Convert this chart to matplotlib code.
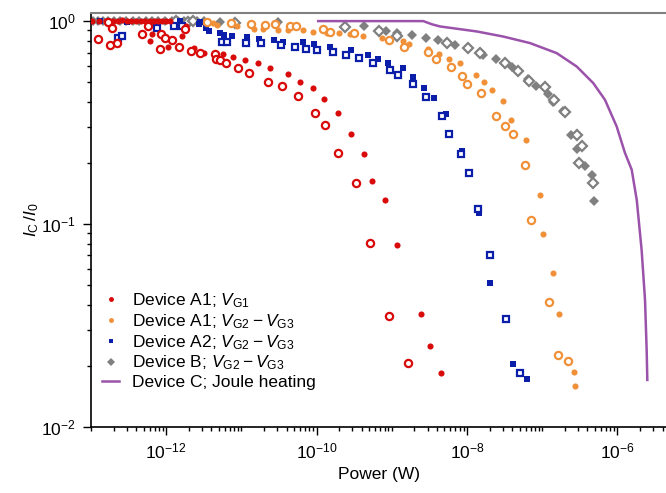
import numpy as np
import matplotlib
matplotlib.use("Agg")
import matplotlib.pyplot as plt
from matplotlib.ticker import FixedLocator, LogLocator, NullFormatter

plt.rcParams['font.family'] = ['Liberation Sans', 'DejaVu Sans']
plt.rcParams['mathtext.fontset'] = 'custom'
plt.rcParams['mathtext.rm'] = 'Liberation Sans'
plt.rcParams['mathtext.it'] = 'Liberation Sans:italic'
plt.rcParams['mathtext.bf'] = 'Liberation Sans:bold'

# Device A1, V_G1 (red)
a1g1_p = [1.03e-13, 1.28e-13, 1.58e-13, 1.96e-13, 2.29e-13, 2.58e-13, 3.01e-13, 3.40e-13,
          3.97e-13, 4.62e-13, 5.22e-13, 6.09e-13, 6.88e-13, 7.78e-13, 8.79e-13, 9.94e-13,
          1.12e-12, 6.09e-13, 6.53e-13, 1.07e-12, 1.61e-12, 1.83e-12, 2.34e-12, 3.21e-12,
          5.75e-12, 7.80e-12, 1.12e-11, 1.68e-11, 2.40e-11, 4.21e-11, 6.01e-11, 8.87e-11,
          1.25e-10, 1.95e-10, 2.87e-10, 4.31e-10, 5.41e-10, 8.20e-10, 1.19e-9, 2.42e-9,
          3.25e-9, 4.47e-9]
a1g1_i = [1.00, 1.00, 1.00, 1.00, 1.00, 1.01, 1.00, 1.00,
          1.00, 1.00, 1.00, 1.00, 1.00, 1.00, 1.00, 1.00,
          1.00, 0.802, 0.863, 0.749, 0.846, 0.948, 0.738, 0.700,
          0.687, 0.664, 0.644, 0.620, 0.586, 0.550, 0.503, 0.467,
          0.412, 0.352, 0.277, 0.222, 0.162, 0.131, 0.0788, 0.0360,
          0.0250, 0.0183]
a1g1_p_open = [1.23e-13, 1.67e-13, 1.79e-13, 1.92e-13, 2.20e-13, 4.81e-13, 5.78e-13, 8.27e-13,
               8.45e-13, 9.64e-13, 1.19e-12, 1.48e-12, 1.79e-12, 2.14e-12, 2.82e-12, 4.46e-12,
               4.59e-12, 5.19e-12, 6.24e-12, 9.10e-12, 1.27e-11, 2.28e-11, 3.50e-11, 5.66e-11,
               9.38e-11, 1.29e-10, 1.95e-10, 3.37e-10, 5.13e-10, 9.27e-10, 1.62e-9]
a1g1_i_open = [0.815, 0.989, 0.758, 0.924, 0.779, 0.863, 0.948, 0.727,
               0.863, 0.824, 0.809, 0.749, 0.913, 0.714, 0.700, 0.687,
               0.649, 0.644, 0.620, 0.586, 0.554, 0.503, 0.476, 0.425,
               0.352, 0.309, 0.223, 0.159, 0.0803, 0.0352, 0.0206]

# Device A1, V_G2 - V_G3 (orange)
a1g23_p = [3.08e-12, 4.19e-12, 4.74e-12, 8.83e-12, 1.47e-11, 1.95e-11, 3.10e-11, 4.21e-11,
           6.53e-11, 9.04e-11, 1.39e-10, 2.00e-10, 2.82e-10, 4.10e-10, 7.36e-10, 1.39e-9,
           1.71e-9, 3.00e-9, 4.28e-9, 5.77e-9, 8.07e-9, 1.31e-8, 1.68e-8, 2.17e-8,
           2.98e-8, 3.85e-8, 6.04e-8, 9.27e-8, 1.04e-7, 1.41e-7, 1.66e-7, 2.65e-7, 2.70e-7]
a1g23_i = [0.992, 0.981, 0.956, 0.941, 0.913, 0.909, 0.906, 0.899,
           0.899, 0.886, 0.876, 0.873, 0.863, 0.846, 0.823, 0.798,
           0.768, 0.730, 0.690, 0.649, 0.620, 0.541, 0.503, 0.458,
           0.403, 0.326, 0.258, 0.139, 0.0892, 0.0573, 0.0358, 0.0186, 0.0158]
a1g23_p_open = [3.49e-12, 7.27e-12, 1.36e-11, 2.06e-11, 2.80e-11, 4.43e-11, 5.32e-11, 1.20e-10,
                1.51e-10, 3.16e-10, 9.12e-10, 1.44e-9, 3.05e-9, 3.87e-9, 6.18e-9, 8.67e-9,
                1.01e-8, 1.53e-8, 2.41e-8, 3.20e-8, 4.05e-8, 5.96e-8, 7.16e-8, 1.24e-7,
                1.64e-7, 2.18e-7]
a1g23_i_open = [0.992, 0.978, 0.972, 0.962, 0.970, 0.945, 0.945, 0.911,
                0.882, 0.873, 0.806, 0.749, 0.708, 0.649, 0.597, 0.537,
                0.487, 0.444, 0.341, 0.305, 0.279, 0.196, 0.105, 0.0412,
                0.0225, 0.0211]

# Device A2, V_G2 - V_G3 (blue)
a2_p = [1.32e-13, 2.43e-13, 2.98e-13, 1.24e-12, 1.53e-12, 2.82e-12, 2.75e-12, 3.38e-12,
        3.71e-12, 5.19e-12, 5.87e-12, 7.57e-12, 1.17e-11, 1.73e-11, 2.73e-11, 3.61e-11,
        6.50e-11, 9.23e-11, 1.52e-10, 2.91e-10, 4.87e-10, 6.62e-10, 9.04e-10, 1.42e-9,
        1.93e-9, 2.65e-9, 3.67e-9, 5.26e-9, 8.67e-9, 1.46e-8, 2.04e-8, 3.17e-8,
        4.13e-8, 6.34e-8]
a2_i = [1.00, 0.839, 0.995, 0.959, 1.00, 0.995, 0.970, 0.924,
        0.889, 0.873, 0.856, 0.846, 0.839, 0.813, 0.807, 0.788,
        0.788, 0.768, 0.743, 0.720, 0.681, 0.648, 0.620, 0.586,
        0.529, 0.467, 0.417, 0.348, 0.228, 0.113, 0.0510, 0.0336,
        0.0203, 0.0171]
a2_p_open = [2.31e-13, 2.56e-13, 7.48e-13, 1.27e-12, 1.61e-12, 5.47e-12, 6.38e-12, 1.14e-11,
             1.84e-11, 3.36e-11, 5.16e-11, 7.23e-11, 1.00e-10, 1.65e-10, 2.48e-10, 3.68e-10,
             5.68e-10, 9.55e-10, 1.22e-9, 1.90e-9, 2.85e-9, 4.66e-9, 5.71e-9, 8.40e-9,
             1.07e-8, 1.39e-8, 2.02e-8, 3.30e-8, 5.02e-8]
a2_i_open = [0.824, 0.846, 0.924, 0.941, 0.941, 0.793, 0.793, 0.784,
             0.777, 0.762, 0.747, 0.727, 0.718, 0.706, 0.684, 0.661,
             0.623, 0.575, 0.540, 0.488, 0.423, 0.341, 0.279, 0.221,
             0.178, 0.119, 0.0703, 0.0339, 0.0183]

# Device B, V_G2 - V_G3 (grey)
b_p = [1.06e-13, 1.24e-13, 1.44e-13, 1.68e-13, 2.02e-13, 2.43e-13, 2.92e-13, 3.62e-13,
       4.35e-13, 5.39e-13, 6.47e-13, 7.78e-13, 9.64e-13, 1.19e-12, 1.44e-12, 1.73e-12,
       2.07e-12, 2.57e-12, 3.18e-12, 5.19e-12, 3.10e-11, 4.27e-10, 8.38e-10, 1.16e-9,
       1.84e-9, 2.81e-9, 4.06e-9, 6.97e-9, 1.65e-8, 2.43e-8, 3.93e-8, 6.53e-8,
       8.20e-8, 1.21e-7, 1.38e-7, 1.87e-7, 2.39e-7, 2.93e-7, 3.71e-7, 4.63e-7, 4.93e-7]
b_i = [1.00, 1.00, 1.00, 1.00, 1.00, 1.00, 1.00, 1.00,
       1.00, 1.00, 1.00, 1.00, 1.00, 1.00, 1.00, 1.00,
       0.992, 1.00, 1.00, 0.995, 0.986, 0.950, 0.891, 0.871,
       0.856, 0.823, 0.807, 0.758, 0.684, 0.653, 0.596, 0.519,
       0.478, 0.435, 0.397, 0.361, 0.273, 0.234, 0.194, 0.174, 0.130]
b_p_open = [1.35e-12, 1.95e-12, 2.27e-12, 8.22e-12, 2.39e-10, 6.82e-10, 1.16e-9, 5.37e-9,
            1.02e-8, 1.49e-8, 3.17e-8, 4.81e-8, 6.67e-8, 1.08e-7, 1.44e-7, 2.03e-7,
            2.90e-7, 3.41e-7, 3.11e-7, 4.70e-7]
b_i_open = [1.00, 0.992, 1.00, 0.984, 0.937, 0.898, 0.849, 0.784,
            0.734, 0.695, 0.619, 0.565, 0.508, 0.475, 0.406, 0.355,
            0.273, 0.243, 0.199, 0.160]

# Device C, Joule heating (purple line)
c_p = [1.05e-10, 2.62e-9, 3.43e-9, 4.38e-9, 1.35e-8, 3.04e-8, 6.89e-8, 1.56e-7,
       2.88e-7, 4.79e-7, 6.84e-7, 9.79e-7, 1.26e-6, 1.55e-6, 1.81e-6, 2.10e-6,
       2.33e-6, 2.45e-6, 2.50e-6]
c_i = [1.00, 1.00, 0.964, 0.941, 0.889, 0.839, 0.779, 0.695,
       0.597, 0.494, 0.409, 0.302, 0.224, 0.185, 0.131, 0.0744,
       0.0422, 0.0239, 0.0170]

red = '#d80a0a'
orange = '#f0913a'
blue = '#0a1eaa'
grey = '#808080'
purple = '#9b52aa'

fig = plt.figure(figsize=(6.66, 4.93), dpi=100)
ax = fig.add_axes([91/666, 1 - 426.7/493, 1 - 91/666, (426.7 - 12.7)/493])

ax.plot(a1g1_p, a1g1_i, 'o', color=red, ms=4.4, mew=0, zorder=5, label=r'Device A1; $V_\mathrm{G1}$')
ax.plot(a1g23_p, a1g23_i, 'o', color=orange, ms=4.4, mew=0, zorder=3,
        label=r'Device A1; $V_\mathrm{G2} - V_\mathrm{G3}$')
ax.plot(a2_p, a2_i, 's', color=blue, ms=4.2, mew=0, zorder=3,
        label=r'Device A2; $V_\mathrm{G2} - V_\mathrm{G3}$')
ax.plot(b_p, b_i, 'D', color=grey, ms=4.8, mew=0, zorder=2,
        label=r'Device B; $V_\mathrm{G2} - V_\mathrm{G3}$')
ax.plot(c_p, c_i, '-', color=purple, lw=1.8, zorder=4, label='Device C; Joule heating')

ax.plot(a1g1_p_open, a1g1_i_open, 'o', color=red, mfc='white', ms=5.2, mew=1.6, zorder=5)
ax.plot(a1g23_p_open, a1g23_i_open, 'o', color=orange, mfc='white', ms=5.2, mew=1.6, zorder=3)
ax.plot(a2_p_open, a2_i_open, 's', color=blue, mfc='white', ms=4.6, mew=1.6, zorder=3)
ax.plot(b_p_open, b_i_open, 'D', color=grey, mfc='white', ms=5.2, mew=1.6, zorder=2)

ax.set_xscale('log')
ax.set_yscale('log')
ax.set_xlim(1e-13, 4.43e-6)
ax.set_ylim(1e-2, 1.1)

ax.xaxis.set_major_locator(FixedLocator([1e-12, 1e-10, 1e-8, 1e-6]))
ax.xaxis.set_minor_locator(LogLocator(base=10, subs=np.arange(1, 10), numticks=30))
ax.xaxis.set_minor_formatter(NullFormatter())
ax.yaxis.set_major_locator(FixedLocator([1e-2, 1e-1, 1e0]))
ax.yaxis.set_minor_locator(LogLocator(base=10, subs=np.arange(2, 10), numticks=30))
ax.yaxis.set_minor_formatter(NullFormatter())

ax.tick_params(which='major', direction='out', length=6, width=1, labelsize=12.5, pad=5)
ax.tick_params(which='minor', direction='out', length=3, width=1)

ax.spines['right'].set_visible(False)
ax.spines['top'].set_color(grey)
ax.spines['top'].set_linewidth(1.5)
ax.spines['left'].set_linewidth(1.2)
ax.spines['bottom'].set_linewidth(1.2)

ax.set_xlabel('Power (W)', fontsize=12.5, labelpad=4)
ax.set_ylabel(r'$I_\mathrm{C}\,/I_0$', fontsize=12.5, labelpad=0)

leg = ax.legend(loc='lower left', bbox_to_anchor=(-0.002, 0.06), frameon=False, fontsize=12.5,
                handlelength=1.0, handletextpad=0.75, labelspacing=0.12, borderaxespad=0.3,
                markerscale=0.8)

fig.savefig('out.png', dpi=100)
